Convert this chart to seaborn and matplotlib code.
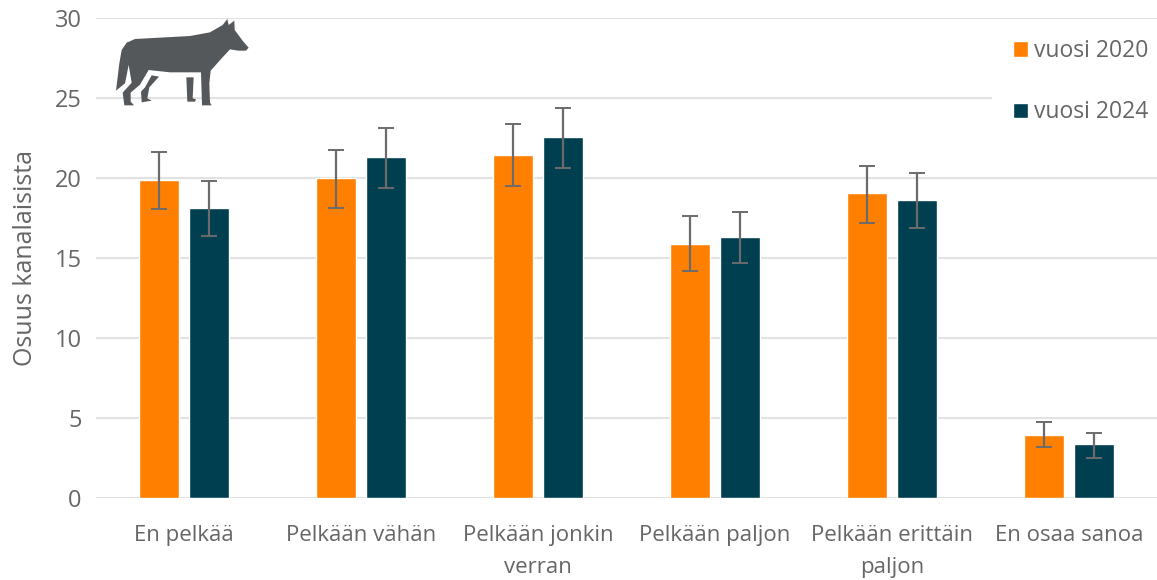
import matplotlib.pyplot as plt
from matplotlib.patches import Polygon, Patch, Rectangle
from matplotlib.transforms import Affine2D
import pandas as pd
import seaborn as sns

categories = ["En pelkää", "Pelkään vähän", "Pelkään jonkin\nverran",
              "Pelkään paljon", "Pelkään erittäin\npaljon", "En osaa sanoa"]
years = ["vuosi 2020", "vuosi 2024"]
values_2020 = [19.85, 19.98, 21.45, 15.9, 19.05, 3.95]
values_2024 = [18.15, 21.3, 22.55, 16.3, 18.6, 3.35]
low_2020 = [18.05, 18.1, 19.5, 14.2, 17.2, 3.2]
high_2020 = [21.6, 21.75, 23.35, 17.65, 20.75, 4.75]
low_2024 = [16.4, 19.4, 20.6, 14.7, 16.9, 2.5]
high_2024 = [19.8, 23.1, 24.4, 17.9, 20.3, 4.05]

# wolf icon outline, in zoomed picture units
wolf_body = [(78, 272), (88, 190), (95, 150), (110, 128), (135, 117), (300, 108), (360, 97),
             (398, 75), (412, 57), (416, 75), (433, 62), (434, 90), (460, 125), (476, 143),
             (468, 152), (445, 152), (420, 148), (395, 175), (362, 212), (358, 250), (360, 308),
             (365, 316), (336, 316), (333, 217), (240, 217), (176, 210), (150, 254), (122, 278),
             (122, 305), (132, 316), (103, 316), (98, 278), (125, 248), (116, 195), (105, 250)]
wolf_rear_leg = [(185, 226), (207, 230), (178, 262), (172, 295), (185, 302), (155, 307),
                 (153, 275), (165, 262)]
wolf_front_leg = [(289, 232), (311, 232), (308, 295), (318, 298), (315, 305), (292, 305)]

sns.set_theme(style="whitegrid")
plt.rcParams['font.family'] = ['Open Sans', 'DejaVu Sans']

text_color = "#666666"
grid_color = "#e2e2e2"
colors = ["#ff8000", "#003f50"]

df = pd.DataFrame({
    "category": categories * 2,
    "year": [years[0]] * 6 + [years[1]] * 6,
    "value": values_2020 + values_2024,
})

fig = plt.figure(figsize=(11.57, 5.8), dpi=100)
ax = fig.add_axes([95.5 / 1157, 82 / 580, 1062 / 1157, 480 / 580])

sns.barplot(data=df, x="category", y="value", hue="year", palette=colors,
            width=0.565, gap=0.19, saturation=1, legend=False, ax=ax)

lows = [low_2020, low_2024]
highs = [high_2020, high_2024]
vals = [values_2020, values_2024]
# errorbar adds its own containers, so take the bars first
bar_containers = list(ax.containers)
for c, cont in enumerate(bar_containers):
    xs = [b.get_x() + b.get_width() / 2 for b in cont]
    ax.errorbar(xs, vals[c],
                yerr=[[v - l for v, l in zip(vals[c], lows[c])],
                      [h - v for v, h in zip(vals[c], highs[c])]],
                fmt="none", ecolor="#6b6b6b", elinewidth=1.6, capsize=6, capthick=1.4, zorder=5)

ax.set_xlim(-0.5, 5.5)
ax.set_ylim(0, 30)
ax.set_yticks(range(0, 31, 5))
ax.set_xlabel("")
ax.set_ylabel("Osuus kanalaisista", fontsize=18, color=text_color, labelpad=12)
ax.tick_params(axis="y", labelsize=17, labelcolor=text_color, length=0, pad=10)
ax.tick_params(axis="x", labelsize=16, labelcolor=text_color, length=0, pad=19.5)
for label in ax.get_xticklabels():
    label.set_linespacing(1.7)
ax.grid(axis="x", visible=False)
ax.grid(axis="y", color=grid_color, linewidth=1.5)
ax.set_axisbelow(True)
sns.despine(ax=ax, left=True, top=True, right=True, bottom=True)

# white box behind the legend hides the grid lines up to the right edge
fig.add_artist(Rectangle((992 / 1157, 1 - 140 / 580), 165 / 1157, 120 / 580,
                         transform=fig.transFigure, facecolor="white", edgecolor="none", zorder=2))

handles = [Patch(facecolor=colors[0], label=years[0]), Patch(facecolor=colors[1], label=years[1])]
leg = fig.legend(handles=handles, loc="upper left", bbox_to_anchor=(1013 / 1157, 1 - 39 / 580),
                 frameon=False, fontsize=16.5, labelcolor=text_color, handlelength=0.65,
                 handleheight=0.65, handletextpad=0.26, labelspacing=1.63, borderpad=0,
                 borderaxespad=0)
leg.set_zorder(3)

# pixel placement of the icon: zoom units / 3, offset from the crop origin
to_px = Affine2D().scale(1 / 3, -1 / 3).translate(90, 580)
for outline in [wolf_body, wolf_rear_leg, wolf_front_leg]:
    fig.add_artist(Polygon(outline, closed=True, facecolor="#55585a", edgecolor="none",
                           transform=to_px, zorder=6))

fig.savefig("out.png", dpi=100)
